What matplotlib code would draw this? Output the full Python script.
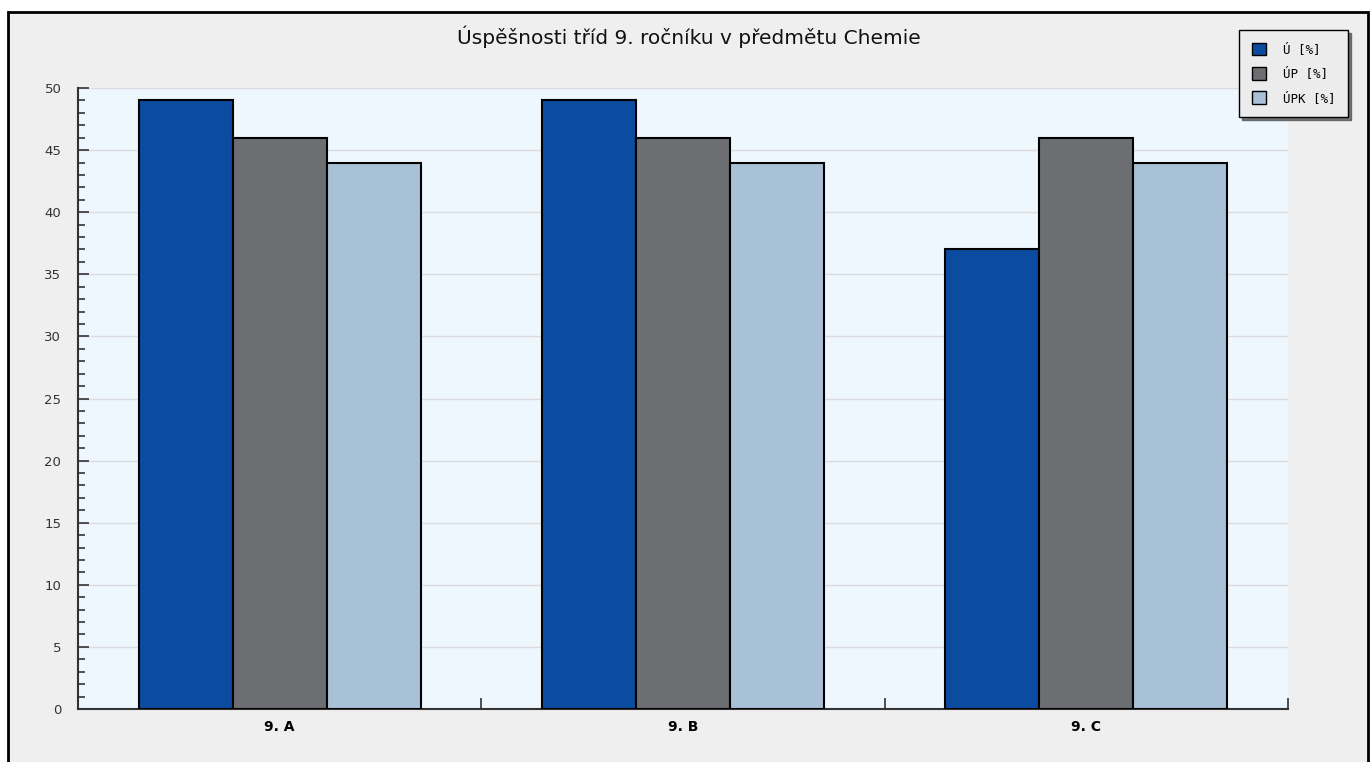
import matplotlib
matplotlib.use("Agg")
import matplotlib.pyplot as plt
import numpy as np
from matplotlib.patches import Rectangle
from matplotlib.ticker import MultipleLocator

TITLE = "Úspěšnosti tříd 9. ročníku v předmětu Chemie"
classes = ["9. A", "9. B", "9. C"]
series_names = ["Ú [%]", "ÚP [%]", "ÚPK [%]"]
u_values = [49, 49, 37]
up_values = [46, 46, 46]
upk_values = [44, 44, 44]
colors = ["#0b4ca0", "#6d6e72", "#a8c1d6"]

fig = plt.figure(figsize=(13.72, 7.62), dpi=100)
fig.patch.set_facecolor("white")

# grey panel with black frame (bottom edge runs off the image)
frame = Rectangle((8 / 1372, -0.05), 1360 / 1372, 1.05 - 12 / 762,
                  transform=fig.transFigure, facecolor="#efefef",
                  edgecolor="black", linewidth=2, zorder=-10)
fig.patches.append(frame)

ax = fig.add_axes([78 / 1372, 1 - 709 / 762, 1210 / 1372, 621 / 762])
ax.set_zorder(1)
ax.set_facecolor("#eef6fe")

x = np.arange(len(classes))
width = 0.233
for i, (vals, name, col) in enumerate(zip([u_values, up_values, upk_values], series_names, colors)):
    ax.bar(x + (i - 1) * width, vals, width, color=col, edgecolor="black",
           linewidth=1.5, label=name, zorder=3)

ax.set_xlim(-0.5, 2.5)
ax.set_ylim(0, 50)
ax.yaxis.set_major_locator(MultipleLocator(5))
ax.yaxis.set_minor_locator(MultipleLocator(1))
ax.grid(axis="y", color="#dcdcdc", linewidth=1, zorder=0)
ax.set_axisbelow(True)

ax.set_xticks(x)
ax.set_xticklabels(classes, fontweight="bold", fontsize=10)
ax.set_xticks([0.5, 1.5, 2.5], minor=True)
ax.tick_params(axis="x", which="major", length=0, pad=8)
ax.tick_params(axis="x", which="minor", direction="in", length=8, width=1.2, color="#333333")
ax.tick_params(axis="y", which="major", direction="in", length=8, width=1.2,
               color="#333333", labelsize=9.5, labelcolor="#333333", pad=12)
ax.tick_params(axis="y", which="minor", direction="in", length=5, width=1.2, color="#333333")

for s in ["top", "right"]:
    ax.spines[s].set_visible(False)
for s in ["left", "bottom"]:
    ax.spines[s].set_color("#333333")
    ax.spines[s].set_linewidth(1.5)

fig.text(689 / 1372, 1 - 37 / 762, TITLE, ha="center", va="center", fontsize=14.5, color="#111111")

leg = fig.legend(loc="upper right", bbox_to_anchor=(1348 / 1372, 1 - 30 / 762),
                 prop={"family": "DejaVu Sans Mono", "size": 9}, frameon=True,
                 fancybox=False, shadow={"color": "#555555", "alpha": 0.8},
                 handlelength=1.1, handleheight=1.2,
                 borderpad=1.0, labelspacing=0.85, handletextpad=1.4, borderaxespad=0)
leg.set_zorder(5)
leg.get_frame().set_edgecolor("black")
leg.get_frame().set_facecolor("#ececec")
leg.get_frame().set_linewidth(1)
for h in leg.legend_handles:
    h.set_linewidth(1)

fig.savefig("out.png", dpi=100, facecolor=fig.get_facecolor())
